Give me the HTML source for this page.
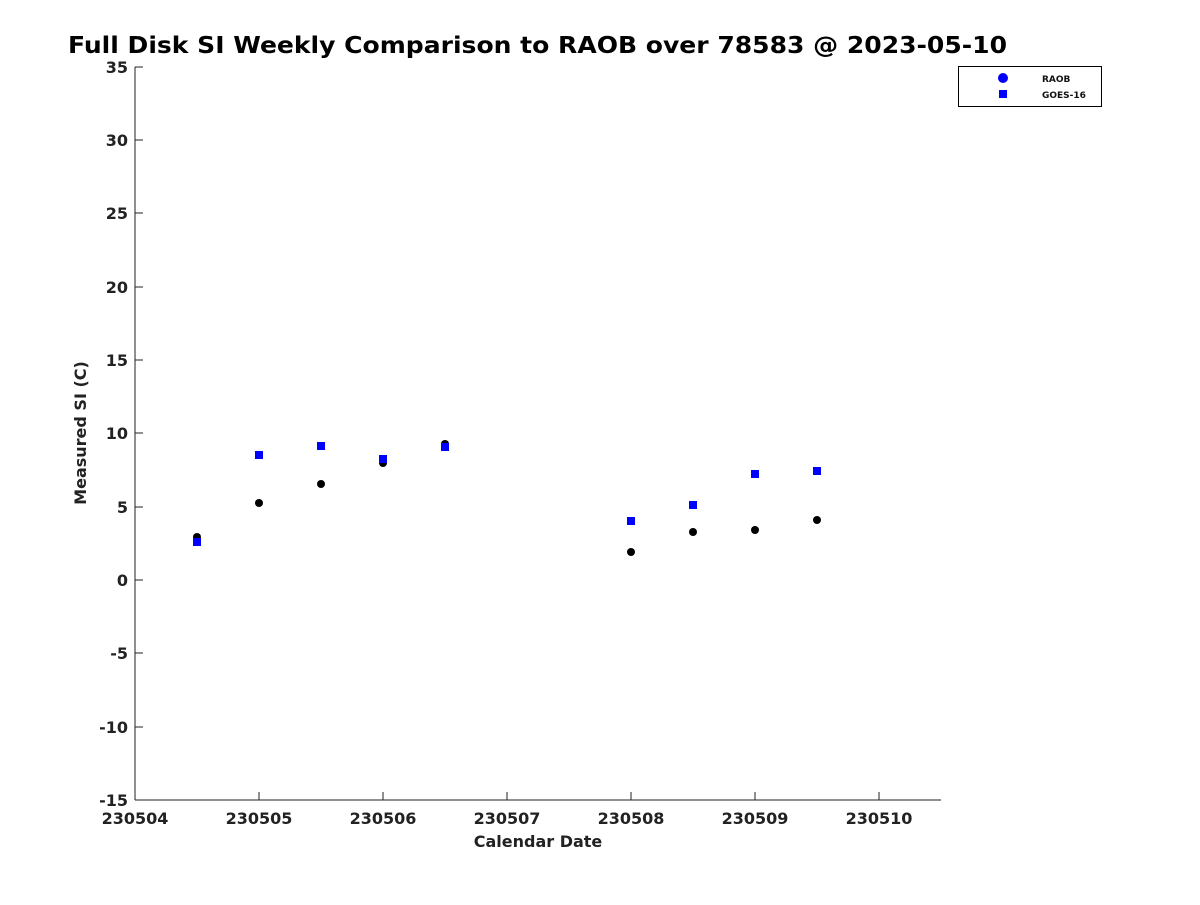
<!DOCTYPE html>
<html><head><style>body{margin:0;background:#fff}</style></head><body>
<svg width="1200" height="900" xmlns="http://www.w3.org/2000/svg" font-family="DejaVu Sans, sans-serif" font-weight="bold">
<rect width="1200" height="900" fill="#fff"/>
<text x="68" y="53" font-size="23" fill="#000" textLength="939" lengthAdjust="spacingAndGlyphs">Full Disk SI Weekly Comparison to RAOB over 78583 @ 2023-05-10</text>
<g stroke="#222" stroke-width="1" fill="none">
<line x1="135" y1="67" x2="135" y2="800"/>
<line x1="135" y1="800" x2="941" y2="800"/>
<path d="M135 67h8M135 140h8M135 213h8M135 287h8M135 360h8M135 433h8M135 507h8M135 580h8M135 653h8M135 727h8"/>
<path d="M259 800v-8M383 800v-8M507 800v-8M631 800v-8M755 800v-8M879 800v-8"/>
</g>
<g font-size="16" fill="#222" text-anchor="end">
<text x="128" y="73">35</text><text x="128" y="146">30</text><text x="128" y="219">25</text><text x="128" y="293">20</text><text x="128" y="366">15</text><text x="128" y="439">10</text><text x="128" y="513">5</text><text x="128" y="586">0</text><text x="128" y="659">-5</text><text x="128" y="733">-10</text><text x="128" y="806">-15</text>
</g>
<g font-size="16" fill="#222" text-anchor="middle">
<text x="135" y="824">230504</text><text x="259" y="824">230505</text><text x="383" y="824">230506</text><text x="507" y="824">230507</text><text x="631" y="824">230508</text><text x="755" y="824">230509</text><text x="879" y="824">230510</text>
<text x="538" y="847">Calendar Date</text>
</g>
<text transform="translate(86,433) rotate(-90)" font-size="16" fill="#222" text-anchor="middle">Measured SI (C)</text>
<g fill="#000">
<circle cx="197" cy="537" r="4"/><circle cx="259" cy="503" r="4"/><circle cx="321" cy="484" r="4"/><circle cx="383" cy="463" r="4"/><circle cx="445" cy="444" r="4"/><circle cx="631" cy="552" r="4"/><circle cx="693" cy="532" r="4"/><circle cx="755" cy="530" r="4"/><circle cx="817" cy="520" r="4"/>
</g>
<g fill="#0000ff">
<rect x="193" y="538" width="8" height="8"/><rect x="255" y="451" width="8" height="8"/><rect x="317" y="442" width="8" height="8"/><rect x="379" y="455" width="8" height="8"/><rect x="441" y="443" width="8" height="8"/><rect x="627" y="517" width="8" height="8"/><rect x="689" y="501" width="8" height="8"/><rect x="751" y="470" width="8" height="8"/><rect x="813" y="467" width="8" height="8"/>
</g>
<rect x="958.5" y="66.5" width="143" height="40" fill="#fff" stroke="#000"/>
<circle cx="1003" cy="78" r="5" fill="#0000ff"/>
<rect x="999" y="90" width="8" height="8" fill="#0000ff"/>
<text x="1042" y="82" font-size="9" fill="#111">RAOB</text>
<text x="1042" y="98" font-size="9" fill="#111">GOES-16</text>
</svg>
</body></html>
